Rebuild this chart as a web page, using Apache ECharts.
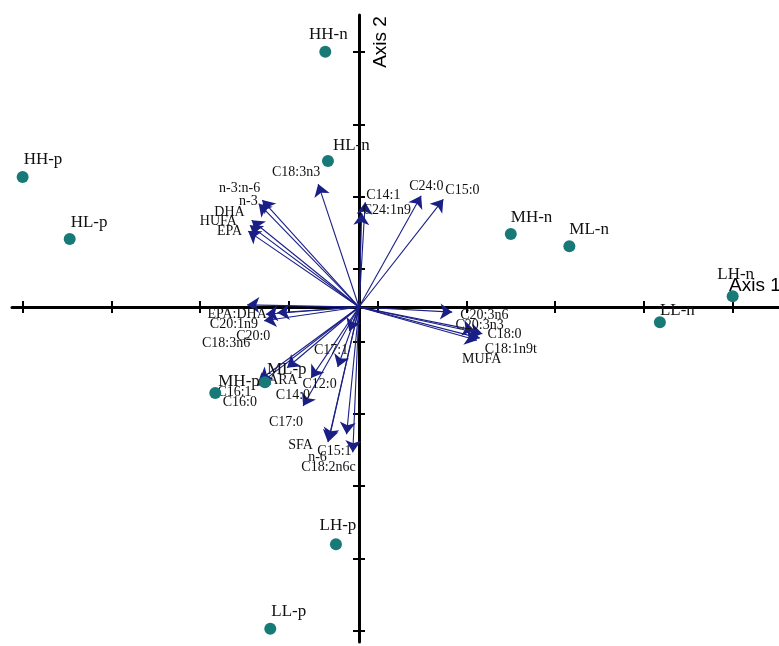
<!DOCTYPE html>
<html>
<head>
<meta charset="utf-8">
<script src="https://cdn.jsdelivr.net/npm/echarts@6/dist/echarts.min.js"></script>
<style>
html,body{margin:0;padding:0;background:#fff;}
#chart{width:779px;height:646px;}
</style>
</head>
<body>
<div id="chart"></div>
<script>
// ---- data ----
const sampleNames = ['HH-n','HL-n','HH-p','HL-p','MH-n','ML-n','LH-n','LL-n','MH-p','ML-p','LH-p','LL-p'];
const sampleX = [-0.38,-0.35,-3.79,-3.26,1.71,2.37,4.21,3.39,-1.62,-1.06,-0.26,-1.00];
const sampleY = [3.53,2.02,1.80,0.94,1.01,0.84,0.15,-0.21,-1.19,-1.04,-3.28,-4.45];

const varNames = ['C18:3n3','n-3:n-6','n-3','DHA','HUFA','EPA','C14:1','C24:1n9','C24:0','C15:0',
  'C20:3n6','C20:3n3','C18:0','C18:1n9t','MUFA','EPA:DHA','C20:1n9','C20:0','C18:3n6','C17:1',
  'C12:0','ARA','C14:0','C17:0','C16:1','C16:0','SFA','n-6','C15:1','C18:2n6c'];
const varX = [-0.46,-1.09,-1.13,-1.21,-1.23,-1.25,0.07,0.03,0.70,0.95,
  1.05,1.30,1.39,1.36,1.33,-1.05,-1.07,-0.92,-1.26,-0.11,
  -0.24,-0.81,-0.54,-0.63,-1.12,-1.15,-0.35,-0.34,-0.14,-0.07];
const varY = [1.70,1.48,1.43,1.20,1.13,1.05,1.45,1.30,1.54,1.49,
  -0.07,-0.32,-0.37,-0.43,-0.46,-0.10,-0.19,-0.08,0.03,-0.33,
  -0.83,-0.84,-0.98,-1.37,-1.01,-1.09,-1.87,-1.84,-1.76,-2.01];

const xTickValues = [-3.79,-2.79,-1.79,-0.79,0.21,1.21,2.21,3.21,4.21];
const yTickValues = [3.525,2.525,1.525,0.525,-0.475,-1.475,-2.475,-3.475,-4.475];
const axisTitles = ['Axis 1','Axis 2'];

// ---- styles (label placement relative to marks, in px) ----
const sampleLabelStyle = {
  'HH-n':['center',3,-17],'HL-n':['left',5,-15],'HH-p':['left',1,-17],'HL-p':['left',1,-17],
  'MH-n':['left',0,-16],'ML-n':['left',0,-17],'LH-n':['center',3,-22],'LL-n':['left',0,-12],
  'MH-p':['left',3,-12],'ML-p':['left',2,-13],'LH-p':['center',2,-19],'LL-p':['left',1,-17]
};
const varLabelStyle = {
  'C18:3n3':['right',2,-12],'n-3:n-6':['right',-2,-12],'n-3':['right',-1,-2],'DHA':['right',-7,-8],
  'HUFA':['right',-13,-4],'EPA':['right',-6,0],'C14:1':['left',1,-7],'C24:1n9':['left',1,-3],
  'C24:0':['left',-12,-9],'C15:0':['left',2,-9],'C20:3n6':['left',8,3],'C20:3n3':['left',-19,-5],
  'C18:0':['left',5,1],'C18:1n9t':['left',5,11],'MUFA':['left',-15,19],'EPA:DHA':['right',1,0],
  'C20:1n9':['right',-6,4],'C20:0':['right',-7,24],'C18:3n6':['right',3,38],'C17:1':['right',-1,19],
  'C12:0':['right',-1,17],'ARA':['left',-19,13],'C14:0':['right',-1,17],'C17:0':['right',0,16],
  'C16:1':['right',-8,12],'C16:0':['right',0,16],'SFA':['right',-15,3],'n-6':['right',-2,17],
  'C15:1':['right',5,17],'C18:2n6c':['right',3,15]
};

const X_MIN = -3.91, X_MAX = 4.732, Y_MIN = -4.633, Y_MAX = 4.039;
const serif = 'Liberation Serif';

function mkX(inside, showLine){
  return {
    type:'value', min:X_MIN, max:X_MAX, position:'bottom',
    axisLine:{show:showLine, onZero:true, onZeroAxisIndex:0, lineStyle:{color:'#000', width:3}},
    axisTick:{show:true, inside:inside, length:6, customValues:xTickValues, lineStyle:{color:'#000', width:2}},
    axisLabel:{show:false}, splitLine:{show:false}
  };
}
function mkY(inside, showLine){
  return {
    type:'value', min:Y_MIN, max:Y_MAX, position:'left',
    axisLine:{show:showLine, onZero:true, onZeroAxisIndex:0, lineStyle:{color:'#000', width:3}},
    axisTick:{show:true, inside:inside, length:6, customValues:yTickValues, lineStyle:{color:'#000', width:2}},
    axisLabel:{show:false}, splitLine:{show:false}
  };
}

const arrowData = varNames.map((n,i)=>({name:n, coords:[[0,0],[varX[i],varY[i]]]}));
const varLabelData = varNames.map((n,i)=>{
  const s = varLabelStyle[n];
  return {name:n, value:[varX[i],varY[i]], label:{align:s[0], offset:[s[1],s[2]]}};
});
const sampleData = sampleNames.map((n,i)=>{
  const s = sampleLabelStyle[n];
  return {name:n, value:[sampleX[i],sampleY[i]], label:{align:s[0], offset:[s[1],s[2]]}};
});

const chart = echarts.init(document.getElementById('chart'), null, {renderer:'canvas'});
chart.setOption({
  animation:false,
  backgroundColor:'#fff',
  grid:{left:12, right:0, top:15, bottom:4, containLabel:false, outerBoundsMode:'none'},
  xAxis:[mkX(false,true), mkX(true,false)],
  yAxis:[mkY(false,true), mkY(true,false)],
  series:[
    {
      type:'lines', coordinateSystem:'cartesian2d', xAxisIndex:0, yAxisIndex:0,
      data:arrowData, symbol:['none','arrow'], symbolSize:[8,12],
      lineStyle:{color:'#1a1f86', width:1.1, opacity:1}, silent:true, z:3
    },
    {
      type:'scatter', xAxisIndex:0, yAxisIndex:0, data:varLabelData,
      symbolSize:1, itemStyle:{color:'rgba(255,255,255,0)', opacity:1}, silent:true, z:4,
      label:{show:true, position:'inside', formatter:'{b}', verticalAlign:'middle',
        fontFamily:serif, fontSize:14, color:'#111', opacity:1}
    },
    {
      type:'scatter', xAxisIndex:0, yAxisIndex:0, data:sampleData,
      symbolSize:12, itemStyle:{color:'#177a77', opacity:1}, silent:true, z:5,
      label:{show:true, position:'inside', formatter:'{b}', verticalAlign:'middle',
        fontFamily:serif, fontSize:17, color:'#111'}
    }
  ]
});

// axis titles placed relative to the axes
const pEnd = chart.convertToPixel({xAxisIndex:0, yAxisIndex:0}, [X_MAX, 0]);
const pTop = chart.convertToPixel({xAxisIndex:0, yAxisIndex:0}, [0, Y_MAX]);
chart.setOption({
  graphic:[
    {type:'text', x:pEnd[0]-50, y:pEnd[1]-21, silent:true,
      style:{text:axisTitles[0], fontFamily:'Liberation Sans', fontSize:19, fill:'#000', align:'left', verticalAlign:'middle'}},
    {type:'text', x:pTop[0]+22, y:pTop[1]+27, rotation:Math.PI/2, silent:true,
      style:{text:axisTitles[1], fontFamily:'Liberation Sans', fontSize:19, fill:'#000', align:'center', verticalAlign:'middle'}}
  ]
});
</script>
</body>
</html>
